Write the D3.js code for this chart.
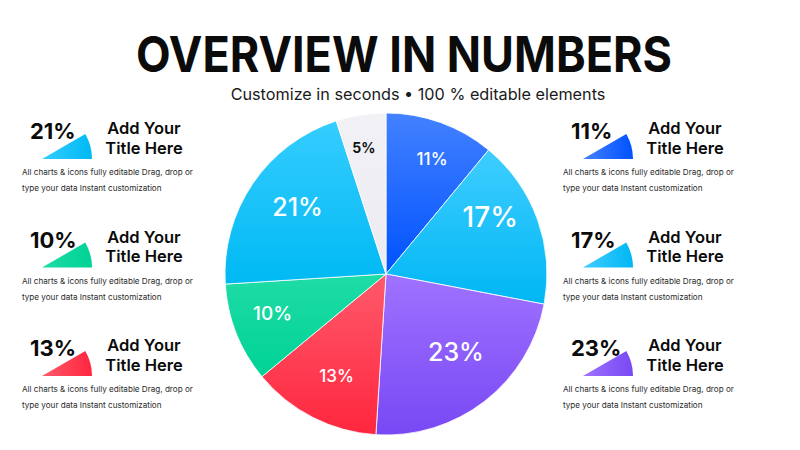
<!DOCTYPE html>
<html>
<head>
<meta charset="utf-8">
<script src="https://cdn.jsdelivr.net/npm/d3@7"></script>
<style>
  html, body { margin: 0; padding: 0; background: #fff; }
  svg { display: block; font-family: Inter, 'Noto Sans', sans-serif; }
</style>
</head>
<body>
<div id="chart"></div>
<script>
// slices clockwise from 12 o'clock
const sliceKeys = ['blue', 'sky', 'violet', 'red', 'green', 'cyan', 'gray'];
const sliceValues = [11, 17, 23, 13, 10, 21, 5];

// side cards
const leftCards = ['cyan', 'green', 'red'];
const rightCards = ['blue', 'sky', 'violet'];
const cardTitle = ['Add Your', 'Title Here'];
const cardText = ['All charts & icons fully editable Drag, drop or', 'type your data Instant customization'];

const titleText = 'OVERVIEW IN NUMBERS';
const subtitleText = 'Customize in seconds \u2022 100 % editable elements';

// styles
const gradients = {
  blue: ['#4381ff', '#0052ff'],
  sky: ['#3fcdff', '#00b7f4'],
  violet: ['#a072ff', '#7848f4'],
  red: ['#ff5a6b', '#ff263f'],
  green: ['#1fdca6', '#00d296'],
  cyan: ['#35cdff', '#00b9f3'],
  gray: ['#f1f1f6', '#ebebf1'],
};
const labelSize = { blue: 17, sky: 28, violet: 25, red: 17, green: 19, cyan: 25, gray: 14 };
// label placement: [angle shift in degrees, distance from centre]
const labelPlace = {
  blue: [2, 124], sky: [-9, 119], violet: [-4, 105], red: [-1, 113],
  green: [2.6, 120], cyan: [3, 111], gray: [-1, 128],
};

const width = 800;
const height = 450;
const cx = 386;
const cy = 274;
const radius = 161;

const svg = d3.select('#chart')
  .append('svg')
  .attr('width', width)
  .attr('height', height);

const defs = svg.append('defs');
Object.keys(gradients).forEach((k) => {
  const g = defs.append('linearGradient')
    .attr('id', `g-${k}`)
    .attr('x1', 0).attr('y1', 0).attr('x2', 0).attr('y2', 1);
  g.append('stop').attr('offset', '0%').attr('stop-color', gradients[k][0]);
  g.append('stop').attr('offset', '100%').attr('stop-color', gradients[k][1]);
  const h = defs.append('linearGradient')
    .attr('id', `h-${k}`)
    .attr('x1', 0).attr('y1', 0).attr('x2', 1).attr('y2', 0);
  h.append('stop').attr('offset', '0%').attr('stop-color', gradients[k][0]);
  h.append('stop').attr('offset', '100%').attr('stop-color', gradients[k][1]);
});

// shrink / grow font so text gets a given width
const fit = (sel, target) => {
  sel.each(function () { // eslint-disable-line
    const node = this;
    const fs = parseFloat(node.getAttribute('font-size'));
    const w = node.getComputedTextLength();
    if (w > 0) node.setAttribute('font-size', (fs * target / w).toFixed(2));
  });
};

// title
svg.append('text')
  .attr('x', 136).attr('y', 72)
  .attr('font-size', 50)
  .attr('font-weight', 700)
  .attr('fill', '#0b0b0b')
  .attr('textLength', 536)
  .attr('lengthAdjust', 'spacingAndGlyphs')
  .text(titleText);

svg.append('text')
  .attr('x', 418).attr('y', 99.5)
  .attr('text-anchor', 'middle')
  .attr('font-size', 15)
  .attr('fill', '#1a1a1a')
  .text(subtitleText)
  .call(fit, 375);

// pie
const pie = d3.pie().sort(null).value(d => d.value);
const data = pie(sliceKeys.map((k, i) => ({ key: k, value: sliceValues[i] })));

const arc = d3.arc().innerRadius(0).outerRadius(radius);

const labelPos = (d) => {
  const [shift, dist] = labelPlace[d.data.key];
  const a = (d.startAngle + d.endAngle) / 2 + shift * Math.PI / 180;
  return [Math.sin(a) * dist, -Math.cos(a) * dist];
};

const g = svg.append('g').attr('transform', `translate(${cx}, ${cy})`);

g.selectAll('path.slice')
  .data(data)
  .enter()
  .append('path')
  .attr('class', 'slice')
  .attr('d', arc)
  .attr('fill', d => `url(#g-${d.data.key})`)
  .attr('stroke', '#fff')
  .attr('stroke-width', 0.8);

g.selectAll('text.label')
  .data(data)
  .enter()
  .append('text')
  .attr('class', 'label')
  .attr('transform', d => `translate(${labelPos(d)})`)
  .attr('text-anchor', 'middle')
  .attr('dy', '0.36em')
  .attr('font-size', d => labelSize[d.data.key])
  .attr('font-weight', d => (d.data.key === 'gray' ? 700 : 500))
  .attr('fill', d => (d.data.key === 'gray' ? '#111' : '#fff'))
  .text(d => `${d.data.value}%`);

// cards
const wedge = d3.arc()
  .innerRadius(0)
  .outerRadius(50)
  .startAngle(Math.PI / 3)
  .endAngle(Math.PI / 2);

const drawCards = (keys, x0) => {
  keys.forEach((k, i) => {
    const value = sliceValues[sliceKeys.indexOf(k)];
    const c = svg.append('g').attr('transform', `translate(${x0}, ${123 + i * 108.5})`);

    c.append('path')
      .attr('d', wedge)
      .attr('transform', 'translate(20, 36)')
      .attr('fill', `url(#h-${k})`);

    c.append('text')
      .attr('x', 8).attr('y', 16)
      .attr('font-size', 22)
      .attr('font-weight', 700)
      .attr('fill', '#0b0b0b')
      .text(`${value}%`);

    c.selectAll('text.ttl')
      .data(cardTitle)
      .enter()
      .append('text')
      .attr('class', 'ttl')
      .attr('x', 122)
      .attr('y', (d, j) => 11 + j * 19.5)
      .attr('text-anchor', 'middle')
      .attr('font-size', 16.5)
      .attr('font-weight', 600)
      .attr('fill', '#0b0b0b')
      .text(d => d);

    c.selectAll('text.desc')
      .data(cardText)
      .enter()
      .append('text')
      .attr('class', 'desc')
      .attr('x', 0)
      .attr('y', (d, j) => 52 + j * 16)
      .attr('font-size', 8.5)
      .attr('fill', '#2a2a2a')
      .text(d => d);
  });
};

drawCards(leftCards, 22);
drawCards(rightCards, 563);

// make the desc lines as wide as in the reference
fit(svg.selectAll('text.desc').filter((d, i) => i % 2 === 0), 171);
const descSize = svg.select('text.desc').attr('font-size');
svg.selectAll('text.desc').attr('font-size', descSize);
</script>
</body>
</html>
